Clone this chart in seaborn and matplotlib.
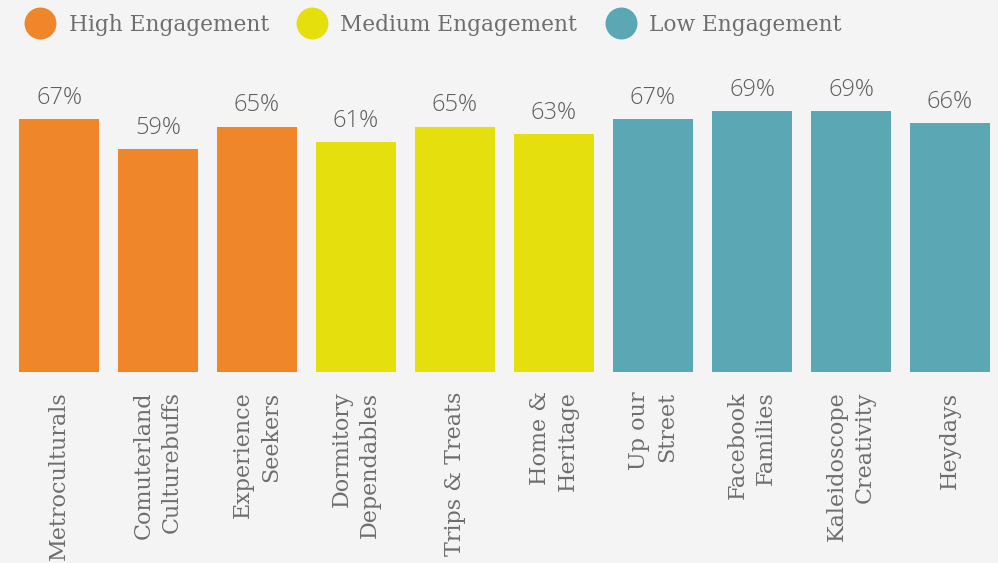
import matplotlib
matplotlib.use("Agg")
import matplotlib.pyplot as plt
from matplotlib.lines import Line2D
import seaborn as sns
import pandas as pd

segments = [
    "Metroculturals",
    "Comuterland\nCulturebuffs",
    "Experience\nSeekers",
    "Dormitory\nDependables",
    "Trips & Treats",
    "Home &\nHeritage",
    "Up our\nStreet",
    "Facebook\nFamilies",
    "Kaleidoscope\nCreativity",
    "Heydays",
]
values = [67, 59, 65, 61, 65, 63, 67, 69, 69, 66]
groups = ["High Engagement"] * 3 + ["Medium Engagement"] * 3 + ["Low Engagement"] * 4
group_order = ["High Engagement", "Medium Engagement", "Low Engagement"]
group_colors = ["#F0862A", "#E5E00D", "#5BA8B4"]

BG = "#F4F4F4"
TEXT = "#6E6E6E"
VALUE_TEXT = "#5E5E5E"

df = pd.DataFrame({"segment": segments, "value": values, "group": groups})
palette = dict(zip(group_order, group_colors))

sns.set_theme(style="white")
plt.rcParams["font.family"] = ["DejaVu Serif"]

fig = plt.figure(figsize=(9.98, 5.63), dpi=100, facecolor=BG)
ax = fig.add_axes([0, (563 - 372) / 563, 1, 312 / 563])
ax.set_facecolor(BG)

sns.barplot(data=df, x="segment", y="value", hue="group", hue_order=group_order,
            palette=palette, dodge=False, width=0.81, saturation=1, legend=False,
            linewidth=0, ax=ax)

# value labels above each bar
for i, v in enumerate(values):
    ax.text(i, v + 2.4, f"{v}%", ha="center", va="bottom", fontsize=17,
            color=VALUE_TEXT, family=["Open Sans", "DejaVu Sans"], fontweight="light")

ax.set_xlim(-0.596, 9.485)
ax.set_ylim(0, 312 / 3.776)
ax.set_xlabel("")
ax.set_ylabel("")
ax.set_yticks([])
ax.tick_params(axis="x", length=0, pad=14)
for lbl in ax.get_xticklabels():
    lbl.set_rotation(90)
    lbl.set_ha("center")
    lbl.set_va("top")
    lbl.set_multialignment("right")
    lbl.set_fontsize(16)
    lbl.set_linespacing(1.35)
    lbl.set_color(TEXT)
for s in ax.spines.values():
    s.set_visible(False)

handles = [Line2D([0], [0], marker="o", linestyle="none", markersize=23,
                  markerfacecolor=c, markeredgecolor="none") for c in group_colors]
leg = fig.legend(handles, group_order, loc="upper left", bbox_to_anchor=(0.008, 1.01),
                 ncol=3, frameon=False, handlelength=1.2, handletextpad=0.7,
                 columnspacing=1.4, fontsize=15.6)
for t in leg.get_texts():
    t.set_color(TEXT)

fig.savefig("out.png", dpi=100, facecolor=BG)
